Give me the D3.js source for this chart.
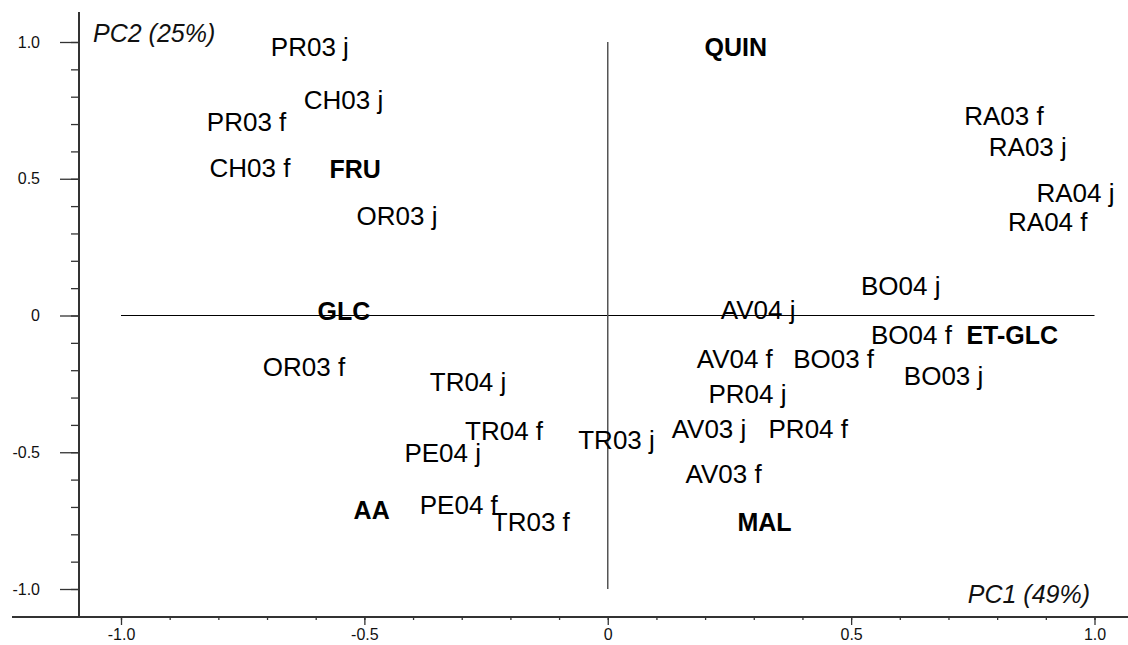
<!DOCTYPE html>
<html>
<head>
<meta charset="utf-8">
<script src="https://cdn.jsdelivr.net/npm/d3@7"></script>
<style>
  html, body { margin: 0; padding: 0; background: #fff; }
  svg { display: block; }
  text { font-family: "Liberation Sans", Arial, sans-serif; }
</style>
</head>
<body>
<svg id="chart" width="1128" height="645"></svg>
<script>
// ---- data ----
const sampleNames = ["PR03 j","CH03 j","PR03 f","CH03 f","OR03 j","RA03 f","RA03 j","RA04 j","RA04 f",
  "BO04 j","AV04 j","BO04 f","AV04 f","BO03 f","BO03 j","PR04 j","AV03 j","PR04 f","TR03 j",
  "OR03 f","TR04 j","TR04 f","PE04 j","PE04 f","TR03 f","AV03 f"];
const samplePC1 = [-0.612,-0.543,-0.742,-0.735,-0.433,0.814,0.863,0.961,0.904,
  0.602,0.309,0.624,0.261,0.464,0.690,0.287,0.208,0.412,0.018,
  -0.624,-0.287,-0.213,-0.339,-0.306,-0.158,0.238];
const samplePC2 = [0.982,0.789,0.709,0.539,0.364,0.731,0.618,0.450,0.342,
  0.108,0.020,-0.071,-0.158,-0.158,-0.221,-0.286,-0.415,-0.415,-0.455,
  -0.186,-0.241,-0.420,-0.501,-0.692,-0.755,-0.580];

const varNames = ["QUIN","FRU","GLC","ET-GLC","AA","MAL"];
const varPC1 = [0.263,-0.519,-0.542,0.831,-0.485,0.322];
const varPC2 = [0.982,0.536,0.018,-0.071,-0.713,-0.754];

const majorTicks = [-1.0,-0.5,0,0.5,1.0];
const tickLabels = ["-1.0","-0.5","0","0.5","1.0"];
const minorTicks = d3.range(-10, 11).map(i => i / 10);

const xTitle = "PC1 (49%)";
const yTitle = "PC2 (25%)";

// ---- layout ----
const svg = d3.select("#chart");
const x = d3.scaleLinear().domain([-1, 1]).range([121, 1094.5]);
const y = d3.scaleLinear().domain([-1, 1]).range([589, 42]);
const axisX = 79;   // left axis position
const axisY = 617;  // bottom axis position
const FONT = "Liberation Sans, Arial, sans-serif";

// x axis ticks
const gx = svg.append("g").attr("transform", `translate(0,${axisY})`);
gx.call(d3.axisBottom(x).tickValues(minorTicks).tickSize(3).tickFormat(""));
gx.call(g => g.select(".domain").remove());
const gx2 = svg.append("g").attr("transform", `translate(0,${axisY})`);
gx2.call(d3.axisBottom(x).tickValues(majorTicks).tickSize(8).tickPadding(4)
  .tickFormat((d, i) => tickLabels[i]));
gx2.attr("font-size", 16).attr("font-family", FONT);
gx2.call(g => g.select(".domain").remove());
gx2.selectAll("text").style("font-size", "16px").attr("fill", "#111");

// y axis ticks
const gy = svg.append("g").attr("transform", `translate(${axisX},0)`);
gy.call(d3.axisLeft(y).tickValues(minorTicks).tickSize(8).tickFormat(""));
gy.call(g => g.select(".domain").remove());
const gy2 = svg.append("g").attr("transform", `translate(${axisX},0)`);
gy2.call(d3.axisLeft(y).tickValues(majorTicks).tickSize(19).tickPadding(20)
  .tickFormat((d, i) => tickLabels[i]));
gy2.attr("font-size", 16).attr("font-family", FONT);
gy2.call(g => g.select(".domain").remove());
gy2.selectAll("text").style("font-size", "16px").attr("fill", "#111");

svg.selectAll(".tick line").attr("stroke", "#333").attr("stroke-width", 1.3);

// axis lines
svg.append("line").attr("x1", axisX).attr("x2", axisX).attr("y1", 12).attr("y2", axisY)
  .attr("stroke", "#333").attr("stroke-width", 2);
svg.append("line").attr("x1", 12).attr("x2", 1128).attr("y1", axisY).attr("y2", axisY)
  .attr("stroke", "#333").attr("stroke-width", 2);

// cross lines
svg.append("line").attr("x1", x(-1)).attr("x2", x(1)).attr("y1", y(0)).attr("y2", y(0))
  .attr("stroke", "#000").attr("stroke-width", 1.2);
svg.append("line").attr("x1", x(0)).attr("x2", x(0)).attr("y1", y(1)).attr("y2", y(-1))
  .attr("stroke", "#555").attr("stroke-width", 1.5);

// axis titles
svg.append("text").attr("x", 93).attr("y", 42).style("font-size", "25px")
  .attr("font-style", "italic").attr("fill", "#111").text(yTitle);
svg.append("text").attr("x", 1090).attr("y", 603).style("font-size", "25px")
  .attr("text-anchor", "end")
  .attr("font-style", "italic").attr("fill", "#111").text(xTitle);

// sample labels
const samples = sampleNames.map((n, i) => ({ n, a: samplePC1[i], b: samplePC2[i] }));
svg.append("g").selectAll("text").data(samples).join("text")
  .attr("x", d => x(d.a)).attr("y", d => y(d.b)).attr("dy", "0.358em")
  .attr("text-anchor", "middle").style("font-size", "26px").attr("fill", "#000")
  .text(d => d.n);

// variable labels
const vars = varNames.map((n, i) => ({ n, a: varPC1[i], b: varPC2[i] }));
svg.append("g").selectAll("text").data(vars).join("text")
  .attr("x", d => x(d.a)).attr("y", d => y(d.b)).attr("dy", "0.358em")
  .attr("text-anchor", "middle").style("font-size", "25px").attr("font-weight", "bold")
  .attr("fill", "#000").text(d => d.n);
</script>
</body>
</html>
